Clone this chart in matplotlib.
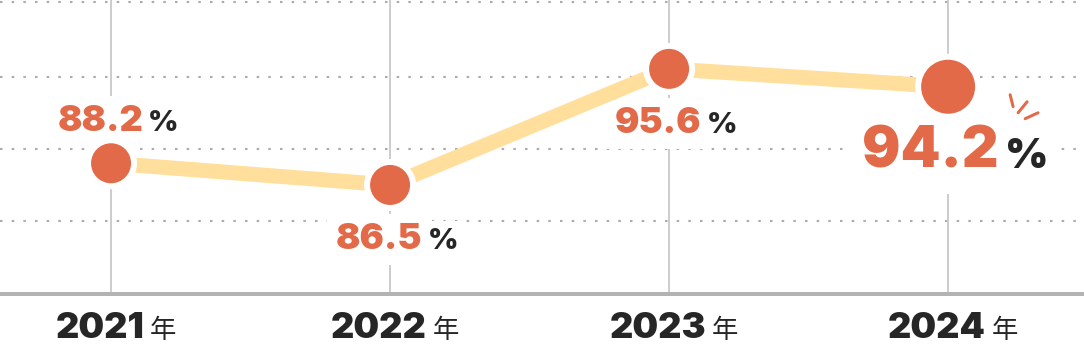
import matplotlib.pyplot as plt
from matplotlib.transforms import ScaledTranslation

years = ["2021", "2022", "2023", "2024"]
rates = [88.2, 86.5, 95.6, 94.2]
label_side = ["above", "below", "below", "below"]
grid_levels = [83.7, 89.3, 95.0, 100.85]

ORANGE = "#e26a48"
YELLOW = "#ffdf9b"
DARK = "#262626"
NUM_FONT = "Inter"
HEAVY = 900
CJK_FONT = ["Noto Sans CJK JP", "DejaVu Sans"]

PX = 72 / 100  # points per pixel

fig = plt.figure(figsize=(10.84, 3.54), dpi=100)
ax = fig.add_axes([0, 60 / 354, 1, 294 / 354])
xs = list(range(len(years)))
ax.set_xlim(-0.398, 3.487)
ax.set_ylim(77.95, 101.0)

for s in ("top", "left", "right"):
    ax.spines[s].set_visible(False)
ax.spines["bottom"].set_color("#b3b3b3")
ax.spines["bottom"].set_linewidth(4 * PX)
ax.spines["bottom"].set_zorder(5)
ax.set_xticks([])
ax.set_yticks([])

# dotted grid + vertical year guides
for lv in grid_levels:
    ax.axhline(lv, color="#ababab", lw=1.5, ls=(0, (1.2, 4.4)), zorder=0.5)
for x in xs:
    ax.axvline(x, color="#c8c8c8", lw=1.3, zorder=1)

ax.plot(xs, rates, color=YELLOW, lw=15 * PX, solid_capstyle="butt", zorder=2)

big = [i == len(years) - 1 for i in xs]
radius = [27 if b else 20 for b in big]
ring = 6
# white halo, then the orange dot
ax.scatter(xs, rates, s=[((r + ring) * 2 * PX) ** 2 for r in radius],
           color="white", linewidths=0, zorder=3)
ax.scatter(xs, rates, s=[(r * 2 * PX) ** 2 for r in radius],
           color=ORANGE, linewidths=0, zorder=3.2)

fig.canvas.draw()
renderer = fig.canvas.get_renderer()


def text_width(s, **kw):
    t = fig.text(0, 0, s, **kw)
    w = t.get_window_extent(renderer).width
    t.remove()
    return w


def put(s, xy, dx, dy, coords="data", **kw):
    # white box under the text knocks out the grid, but not the yellow line
    ax.annotate(s, xy=xy, xycoords=coords, xytext=(dx * PX, dy * PX),
                textcoords="offset points", ha="left", va="baseline",
                color="none", zorder=1.5,
                bbox=dict(boxstyle="square,pad=0.25", fc="white", ec="none"),
                **{k: v for k, v in kw.items() if k != "color"})
    ax.annotate(s, xy=xy, xycoords=coords, xytext=(dx * PX, dy * PX),
                textcoords="offset points", ha="left", va="baseline",
                zorder=4.5, **kw)


# value labels
for x, v, side, b, r in zip(xs, rates, label_side, big, radius):
    num_size = 41 if b else 26
    pct_size = 30 if b else 21
    num = f"{v:.1f}"
    wn = text_width(num, fontsize=num_size, fontweight=HEAVY, family=NUM_FONT)
    wp = text_width("%", fontsize=pct_size, fontweight=HEAVY, family=NUM_FONT)
    gap = 6 if b else 5
    left = 7 - (wn + gap + wp) / 2
    if side == "above":
        dy = r + ring + 6
    else:
        dy = -(r + ring + (7 if b else 12) + num_size)
    put(num, (x, v), left, dy, fontsize=num_size, fontweight=HEAVY,
        family=NUM_FONT, color=ORANGE)
    put("%", (x, v), left + wn + gap, dy, fontsize=pct_size,
        fontweight=HEAVY, family=NUM_FONT, color=DARK)

# year labels under the axis
xaxis = ax.get_xaxis_transform()
for x, yr in zip(xs, years):
    wy = text_width(yr, fontsize=26, fontweight=HEAVY, family=NUM_FONT)
    wk = text_width("年", fontsize=19, family=CJK_FONT)
    gap = 6
    left = 5 - (wy + gap + wk) / 2
    ax.annotate(yr, xy=(x, 0), xycoords=xaxis, xytext=(left * PX, -44 * PX),
                textcoords="offset points", ha="left", va="baseline",
                fontsize=26, fontweight=HEAVY, family=NUM_FONT, color=DARK,
                annotation_clip=False)
    ax.annotate("年", xy=(x, 0), xycoords=xaxis,
                xytext=((left + wy + gap) * PX, -44 * PX),
                textcoords="offset points", ha="left", va="baseline",
                fontsize=19, family=CJK_FONT, color=DARK,
                annotation_clip=False)

# little "sparkle" strokes next to the latest value
spark = fig.dpi_scale_trans + ScaledTranslation(xs[-1], rates[-1], ax.transData)
for (x0, y0), (x1, y1) in [((62, -8), (65, -20)),
                           ((70, -26), (79, -15)),
                           ((77, -32), (90, -26))]:
    ax.plot([x0 / 100, x1 / 100], [y0 / 100, y1 / 100], transform=spark,
            color=ORANGE, lw=3 * PX, solid_capstyle="round", zorder=4,
            clip_on=False)

fig.savefig("out.png", dpi=100)
